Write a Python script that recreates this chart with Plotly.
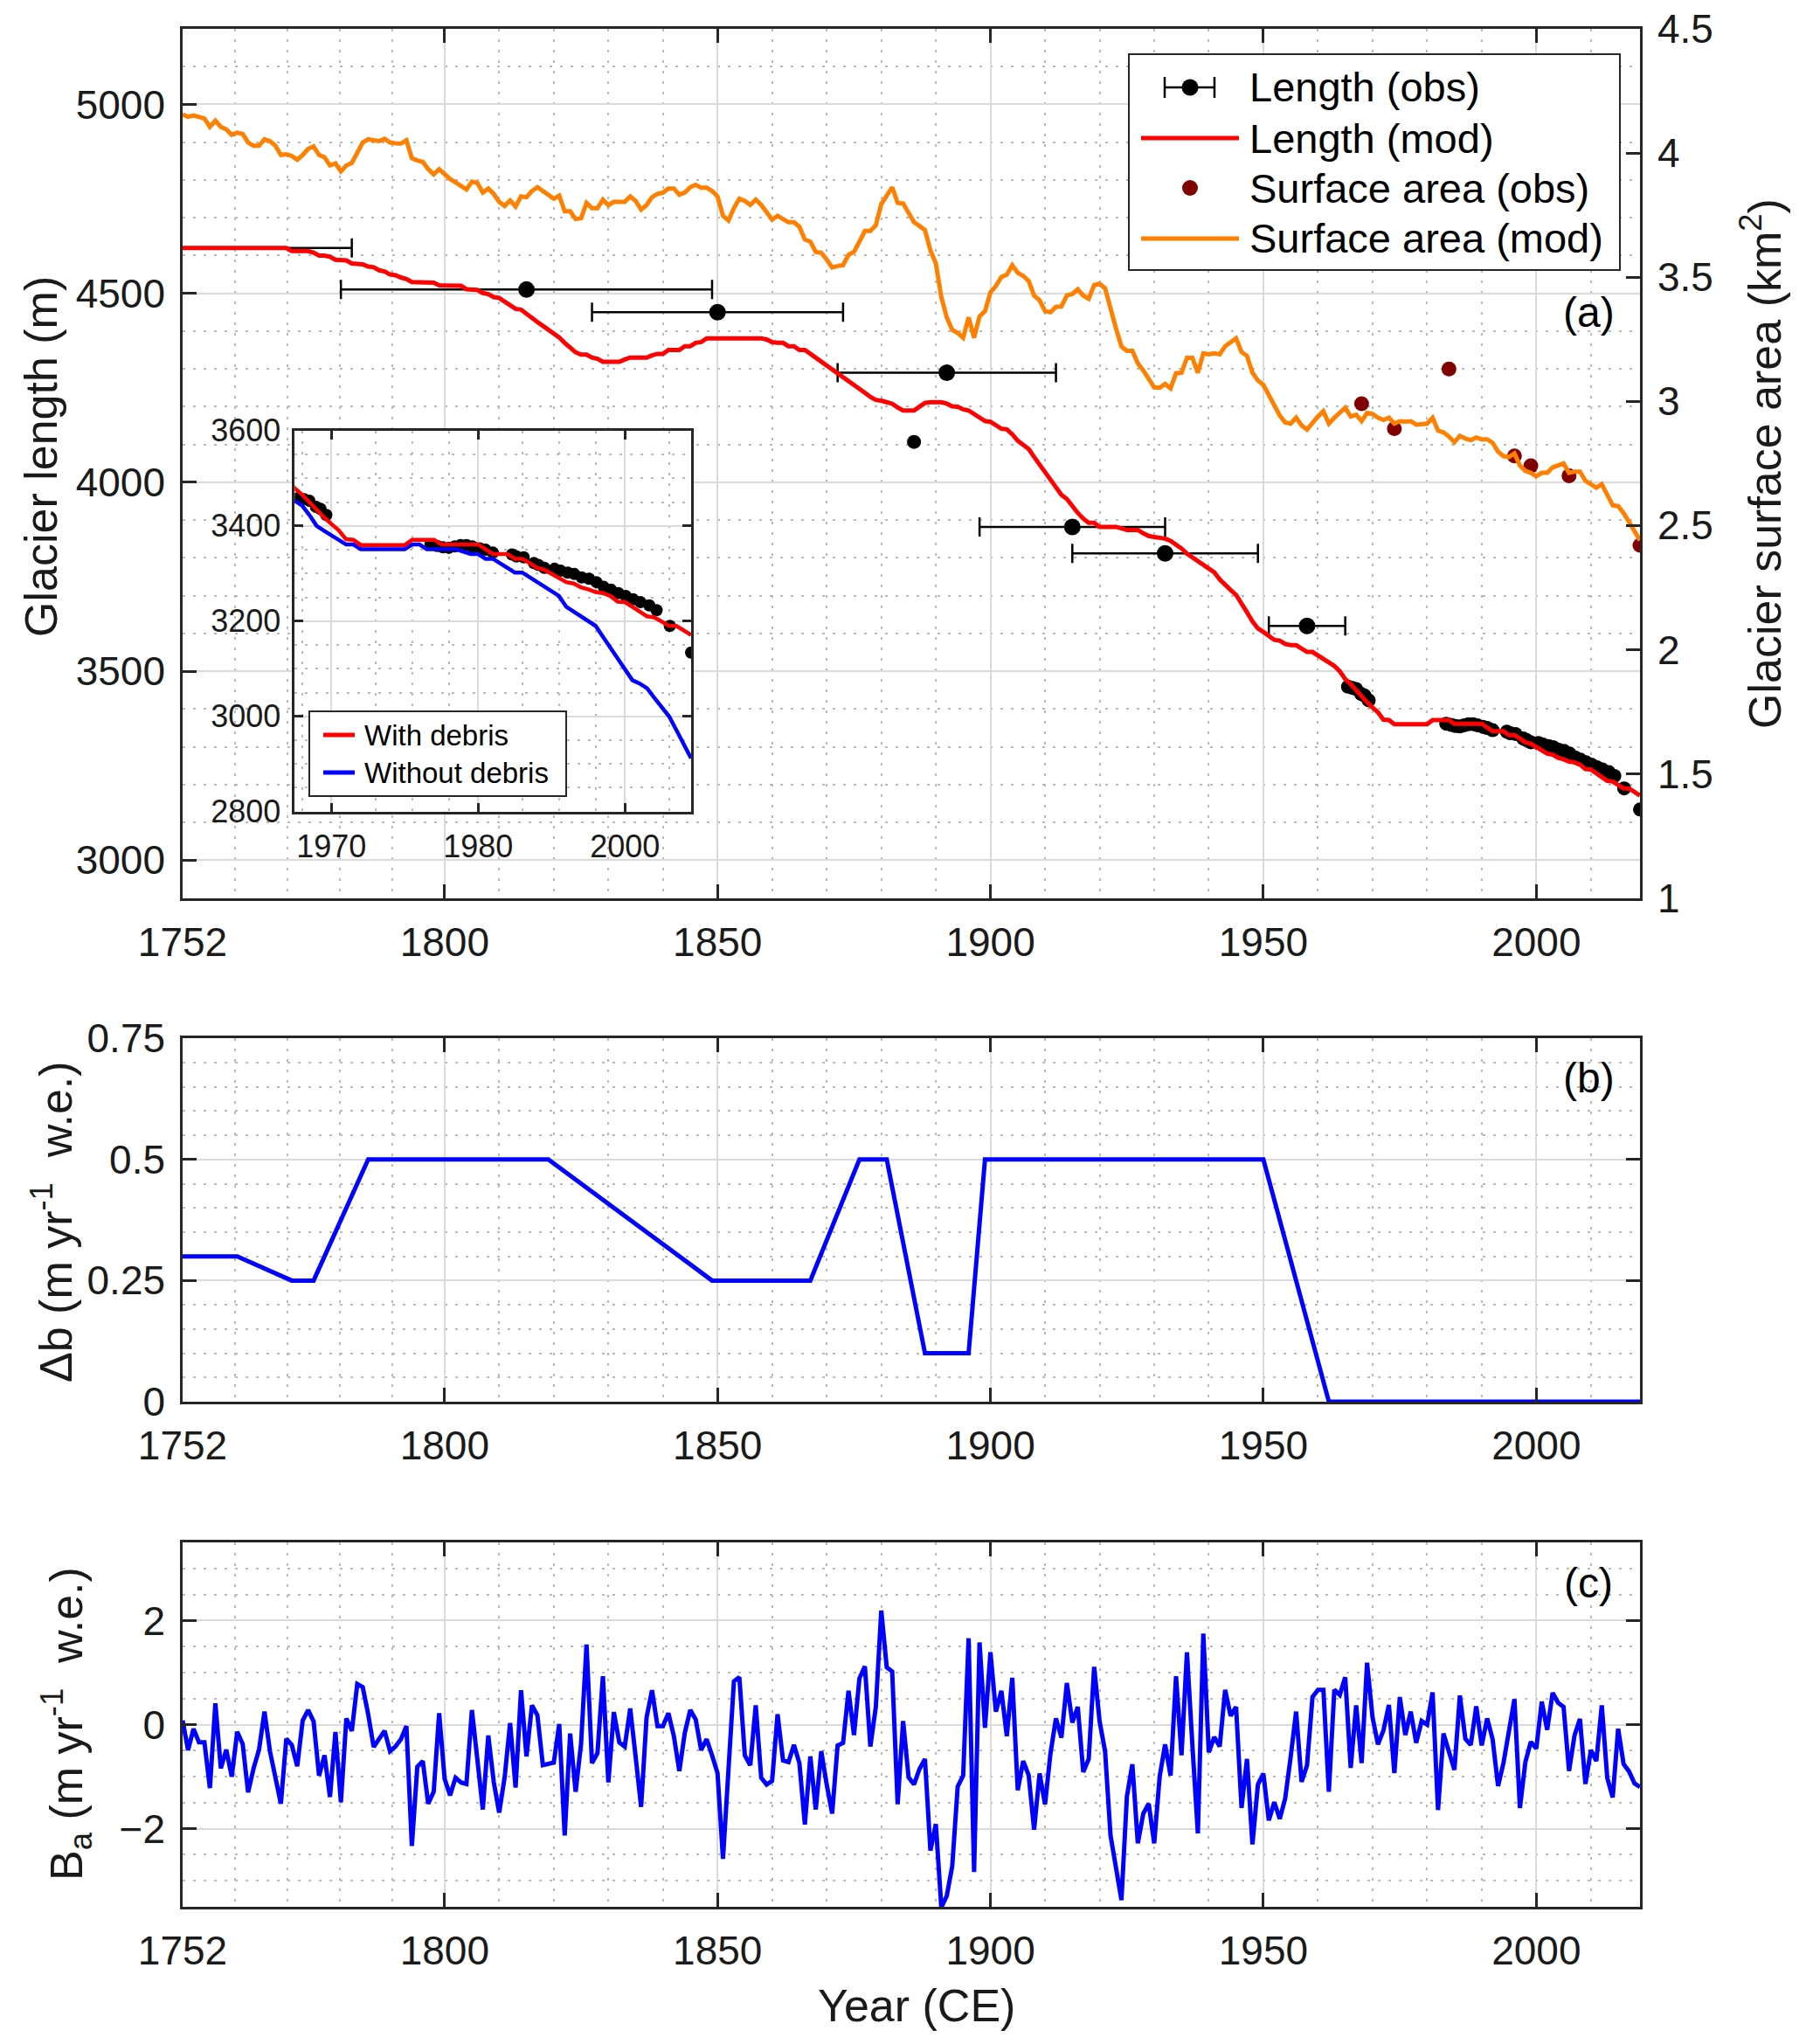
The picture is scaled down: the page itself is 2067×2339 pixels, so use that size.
import plotly.graph_objects as go

# ---- data ----
years = list(range(1752, 2020))

# glacier length, modelled (m), 1752-2019
length_mod = [
    4620, 4620, 4620, 4620, 4620, 4620, 4620, 4620, 4620, 4620,  # 1752
    4620, 4620, 4620, 4620, 4620, 4620, 4620, 4620, 4620, 4620,  # 1762
    4612, 4612, 4612, 4612, 4608, 4600, 4600, 4597, 4589, 4589,  # 1772
    4587, 4579, 4579, 4577, 4571, 4569, 4561, 4558, 4550, 4548,  # 1782
    4542, 4538, 4530, 4530, 4530, 4530, 4528, 4521, 4521, 4521,  # 1792
    4521, 4520, 4511, 4511, 4509, 4501, 4498, 4490, 4488, 4478,  # 1802
    4468, 4459, 4457, 4445, 4435, 4424, 4414, 4404, 4393, 4383,  # 1812
    4369, 4355, 4344, 4338, 4338, 4330, 4327, 4319, 4319, 4319,  # 1822
    4319, 4325, 4330, 4330, 4330, 4330, 4336, 4340, 4340, 4350,  # 1832
    4350, 4350, 4360, 4360, 4369, 4371, 4381, 4381, 4381, 4381,  # 1842
    4381, 4381, 4381, 4381, 4381, 4381, 4381, 4378, 4371, 4369,  # 1852
    4369, 4360, 4360, 4350, 4350, 4340, 4330, 4319, 4308, 4299,  # 1862
    4289, 4278, 4267, 4257, 4247, 4237, 4226, 4218, 4216, 4212,  # 1872
    4208, 4198, 4190, 4190, 4190, 4200, 4210, 4212, 4212, 4212,  # 1882
    4208, 4201, 4200, 4193, 4190, 4181, 4171, 4162, 4160, 4152,  # 1892
    4142, 4140, 4127, 4110, 4099, 4088, 4067, 4047, 4026, 4006,  # 1902
    3985, 3967, 3956, 3937, 3919, 3904, 3893, 3893, 3882, 3882,  # 1912
    3882, 3882, 3878, 3874, 3874, 3874, 3865, 3858, 3855, 3854,  # 1922
    3851, 3845, 3836, 3825, 3811, 3801, 3792, 3783, 3774, 3762,  # 1932
    3743, 3727, 3715, 3702, 3681, 3656, 3632, 3613, 3604, 3594,  # 1942
    3583, 3581, 3572, 3569, 3569, 3560, 3551, 3551, 3542, 3532,  # 1952
    3523, 3514, 3500, 3479, 3466, 3449, 3433, 3418, 3404, 3391,  # 1962
    3372, 3371, 3360, 3360, 3360, 3360, 3360, 3360, 3360, 3371,  # 1972
    3371, 3371, 3371, 3361, 3361, 3361, 3361, 3361, 3361, 3351,  # 1982
    3341, 3341, 3341, 3331, 3331, 3322, 3312, 3308, 3299, 3292,  # 1992
    3282, 3279, 3271, 3267, 3261, 3259, 3253, 3241, 3240, 3230,  # 2002
    3220, 3210, 3208, 3200, 3190, 3190, 3180, 3171,              # 2012
]

# glacier surface area, modelled (km2), 1752-2019
area_mod = [
    4.155, 4.146, 4.151, 4.143, 4.139, 4.105, 4.130, 4.105, 4.095, 4.073,  # 1752
    4.082, 4.077, 4.042, 4.029, 4.029, 4.055, 4.048, 4.029, 3.992, 3.995,  # 1762
    3.988, 3.973, 3.992, 4.017, 4.026, 3.992, 3.983, 3.950, 3.958, 3.926,  # 1772
    3.950, 3.960, 4.004, 4.042, 4.055, 4.051, 4.048, 4.057, 4.042, 4.039,  # 1782
    4.038, 4.051, 3.979, 3.970, 3.964, 3.935, 3.914, 3.935, 3.916, 3.895,  # 1792
    3.882, 3.866, 3.853, 3.885, 3.879, 3.841, 3.857, 3.835, 3.803, 3.787,  # 1802
    3.809, 3.784, 3.825, 3.822, 3.847, 3.862, 3.845, 3.828, 3.816, 3.828,  # 1812
    3.765, 3.765, 3.734, 3.737, 3.799, 3.778, 3.778, 3.812, 3.790, 3.803,  # 1822
    3.803, 3.803, 3.825, 3.807, 3.772, 3.790, 3.822, 3.835, 3.840, 3.857,  # 1832
    3.857, 3.832, 3.841, 3.862, 3.872, 3.860, 3.860, 3.847, 3.825, 3.747,  # 1842
    3.728, 3.778, 3.816, 3.807, 3.791, 3.812, 3.791, 3.762, 3.732, 3.747,  # 1852
    3.734, 3.721, 3.721, 3.703, 3.652, 3.643, 3.602, 3.598, 3.571, 3.539,  # 1862
    3.545, 3.548, 3.590, 3.602, 3.643, 3.686, 3.686, 3.709, 3.794, 3.828,  # 1872
    3.862, 3.799, 3.797, 3.759, 3.721, 3.706, 3.690, 3.608, 3.555, 3.420,  # 1882
    3.338, 3.288, 3.275, 3.256, 3.338, 3.256, 3.342, 3.363, 3.439, 3.464,  # 1892
    3.501, 3.510, 3.548, 3.518, 3.505, 3.485, 3.426, 3.407, 3.363, 3.359,  # 1902
    3.380, 3.382, 3.426, 3.432, 3.451, 3.426, 3.413, 3.468, 3.473, 3.455,  # 1912
    3.370, 3.294, 3.221, 3.203, 3.203, 3.153, 3.124, 3.093, 3.056, 3.055,  # 1922
    3.070, 3.052, 3.113, 3.115, 3.175, 3.175, 3.115, 3.193, 3.189, 3.193,  # 1932
    3.189, 3.222, 3.236, 3.254, 3.198, 3.183, 3.115, 3.084, 3.066, 3.023,  # 1942
    2.981, 2.943, 2.915, 2.910, 2.934, 2.903, 2.886, 2.915, 2.939, 2.960,  # 1952
    2.910, 2.934, 2.953, 2.974, 2.939, 2.946, 2.920, 2.953, 2.949, 2.934,  # 1962
    2.925, 2.934, 2.910, 2.920, 2.918, 2.920, 2.906, 2.910, 2.910, 2.934,  # 1972
    2.882, 2.875, 2.858, 2.835, 2.861, 2.850, 2.844, 2.854, 2.847, 2.847,  # 1982
    2.833, 2.797, 2.779, 2.776, 2.790, 2.741, 2.720, 2.712, 2.698, 2.712,  # 1992
    2.712, 2.734, 2.741, 2.750, 2.712, 2.717, 2.717, 2.680, 2.666, 2.652,  # 2002
    2.666, 2.623, 2.581, 2.578, 2.550, 2.514, 2.476, 2.440,                # 2012
]

# length observations with dating uncertainty (+/- years)
obs_err_year = [1750, 1815, 1850, 1892, 1915, 1932, 1958]
obs_err_len = [4620, 4510, 4450, 4290, 3882, 3812, 3620]
obs_err_dx = [33, 34, 23, 20, 17, 17, 7]

# length observations without error bar
obs_year = [1886, 1965.5, 1966.3, 1967, 1967.9, 1968.5, 1969.3,
            1983.5, 1984.4, 1985.2, 1986, 1986.8, 1987.6, 1988.4, 1989.2,
            1990.2, 1991, 1992, 1994.6, 1995.2, 1996.2, 1997.6, 1998.2,
            1999, 2000.4, 2001.2, 2002.2, 2003.1, 2004.1, 2005.1, 2006.1,
            2007.1, 2008.1, 2009.1, 2010.1, 2011.1, 2012.1, 2013.3, 2014.3,
            2016.1, 2019]
obs_len = [4107, 3459, 3456, 3453, 3440, 3436, 3423,
           3361, 3358, 3355, 3354, 3357, 3360, 3360, 3357,
           3353, 3350, 3344, 3340, 3336, 3334, 3322, 3318,
           3312, 3310, 3306, 3302, 3299, 3292, 3289, 3282,
           3272, 3266, 3259, 3253, 3246, 3240, 3233, 3223,
           3190, 3134]

# surface area observations (km2)
area_obs_year = [1968, 1974, 1984, 1996, 1999, 2006, 2019]
area_obs = [2.99, 2.89, 3.13, 2.78, 2.74, 2.70, 2.42]

# inset: modelled length without debris, 1965-2019
nodebris_year = list(range(1965, 2020))
length_nodebris = [
    3453, 3443, 3423, 3400, 3390, 3381, 3371, 3361, 3361, 3351,  # 1965
    3351, 3351, 3351, 3351, 3351, 3351, 3361, 3361, 3351, 3351,  # 1975
    3351, 3351, 3351, 3346, 3341, 3341, 3331, 3331, 3322, 3312,  # 1985
    3302, 3302, 3292, 3282, 3272, 3262, 3253, 3230, 3220, 3210,  # 1995
    3202, 3190, 3167, 3144, 3121, 3099, 3076, 3069, 3059, 3039,  # 2005
    3020, 3000, 2971, 2941, 2912,                                # 2015
]

# panel (b): mass balance offset, breakpoints
db_year = [1752, 1762, 1772, 1776, 1786, 1819, 1849, 1867, 1876, 1881,
           1888, 1896, 1899, 1950, 1962, 2019]
db_val = [0.3, 0.3, 0.25, 0.25, 0.5, 0.5, 0.25, 0.25, 0.5, 0.5,
          0.1, 0.1, 0.5, 0.5, 0.0, 0.0]

# panel (c): annual mass balance Ba (m w.e.), 1752-2019
ba = [
    0.08, -0.49, -0.08, -0.34, -0.34, -1.22, 0.41, -0.84, -0.48, -1.00,  # 1752
    -0.14, -0.37, -1.30, -0.84, -0.48, 0.25, -0.51, -1.01, -1.52, -0.27,  # 1762
    -0.39, -0.80, 0.08, 0.28, 0.06, -0.98, -0.59, -1.39, -0.14, -1.49,  # 1772
    0.12, -0.12, 0.78, 0.72, 0.20, -0.43, -0.28, -0.12, -0.51, -0.42,  # 1782
    -0.28, -0.03, -2.33, -0.81, -0.70, -1.52, -1.29, 0.22, -1.04, -1.36,  # 1792
    -1.02, -1.11, -1.14, 0.28, -0.67, -1.63, -0.21, -1.10, -1.69, -1.01,  # 1802
    0.03, -1.21, 0.66, -0.61, 0.37, 0.18, -0.78, -0.76, -0.73, 0.01,  # 1812
    -2.13, -0.17, -1.29, -0.37, 1.54, -0.74, -0.55, 0.93, -1.11, 0.24,  # 1822
    -0.34, -0.42, 0.31, -0.62, -1.58, 0.14, 0.66, -0.03, -0.03, 0.22,  # 1832
    -0.22, -0.89, -0.16, 0.28, 0.10, -0.49, -0.28, -0.59, -0.93, -2.58,  # 1842
    -1.01, 0.83, 0.91, -0.59, -0.78, 0.37, -1.02, -1.15, -1.08, 0.20,  # 1852
    -0.69, -0.72, -0.39, -0.74, -1.92, -0.61, -1.63, -0.51, -1.15, -1.71,  # 1862
    -0.40, -0.35, 0.65, -0.20, 0.89, 1.12, -0.42, 0.34, 2.19, 1.10,  # 1872
    1.02, -1.53, 0.07, -1.01, -1.15, -0.85, -0.66, -2.42, -1.91, -3.51,  # 1882
    -3.29, -2.72, -1.19, -0.98, 1.66, -2.83, 1.58, -0.06, 1.39, 0.25,  # 1892
    0.65, -0.22, 0.90, -1.26, -0.70, -0.97, -2.02, -0.94, -1.53, -0.55,  # 1902
    0.12, -0.25, 0.80, 0.04, 0.34, -0.91, -0.66, 1.11, 0.06, -0.51,  # 1912
    -2.13, -2.81, -3.37, -1.38, -0.76, -2.28, -1.71, -1.52, -2.28, -1.00,  # 1922
    -0.38, -0.98, 0.93, -0.59, 1.39, -0.40, -2.09, 1.75, -0.53, -0.24,  # 1932
    -0.42, 0.67, 0.17, 0.34, -1.60, -0.66, -2.30, -1.15, -0.94, -1.84,  # 1942
    -1.49, -1.81, -1.42, -0.62, 0.25, -1.10, -0.78, 0.53, 0.67, 0.67,  # 1952
    -1.29, 0.67, 0.57, 0.91, -0.83, 0.37, -0.74, 1.19, 0.14, -0.38,  # 1962
    -0.11, 0.38, -0.93, 0.53, -0.20, 0.25, -0.35, 0.07, 0.00, 0.62,  # 1972
    -1.64, -0.17, -0.49, -0.87, 0.56, -0.27, -0.39, 0.35, -0.40, 0.12,  # 1982
    -0.28, -1.18, -0.73, -0.08, 0.49, -1.60, -0.72, -0.33, -0.46, 0.44,  # 1992
    -0.10, 0.61, 0.42, 0.34, -0.89, -0.21, 0.11, -1.14, -0.49, -0.70,  # 2002
    0.37, -1.02, -1.40, -0.08, -0.76, -0.90, -1.13, -1.20,  # 2012
]

# tick labels
year_ticks = [1752, 1800, 1850, 1900, 1950, 2000]
year_minor = [1761.6, 1771.2, 1780.8, 1790.4] + [y for y in range(1810, 2020, 10) if y % 50]
area_ticks = [1, 1.5, 2, 2.5, 3, 3.5, 4, 4.5]
area_ticktext = ["1", "1.5", "2", "2.5", "3", "3.5", "4", "4.5"]
inset_ticks = [1970, 1990, 2010]
inset_ticktext = ["1970", "1980", "2000"]
inset_minor = [1966, 1976, 1981, 1986, 1996, 2001, 2006, 2016]

# ---- styling ----
# the page adds an 8px body margin, so the figure is shifted and shrunk by that much
OFF = 8
W, H = 2067 - OFF, 2339 - OFF
ML, MR, MT, MB = 209 - OFF, 190, 33 - OFF, 157
PW, PH = W - ML - MR, H - MT - MB
FONT = "Liberation Sans"
AX = "#262626"
GRID = "#dadada"
MGRID = "#b8b8b8"
RED, ORANGE, BLUE, MAROON = "#ff0000", "#ff8000", "#0000ff", "#800000"


def px(x):
    # page pixel -> paper x
    return (x - OFF - ML) / PW


def py(y):
    # page pixel -> paper y
    return (MT + PH - (y - OFF)) / PH


def axis(size=46, **kw):
    d = dict(showline=True, linecolor=AX, linewidth=2.5, ticks="inside", ticklen=16,
             tickwidth=2.5, tickcolor=AX, tickfont=dict(family=FONT, size=size, color="#1a1a1a"),
             showgrid=True, gridcolor=GRID, gridwidth=2, zeroline=False, automargin=False,
             tickmode="array", ticklabelstandoff=8, ticklabeloverflow="allow")
    d.update(kw)
    return d


def minor(vals):
    return dict(tickmode="array", tickvals=vals, showgrid=True, gridcolor=MGRID,
                griddash="3px,9px", gridwidth=2, ticks="")


fig = go.Figure()

# panel (a)
fig.add_trace(go.Scatter(x=obs_err_year, y=obs_err_len, mode="markers",
                         marker=dict(color="black", size=19),
                         error_x=dict(type="data", array=obs_err_dx, color="black",
                                      thickness=2.5, width=11),
                         xaxis="x", yaxis="y"))
fig.add_trace(go.Scatter(x=obs_year, y=obs_len, mode="markers",
                         marker=dict(color="black", size=16), xaxis="x", yaxis="y"))
fig.add_trace(go.Scatter(x=years, y=length_mod, mode="lines",
                         line=dict(color=RED, width=5), xaxis="x", yaxis="y"))
fig.add_trace(go.Scatter(x=area_obs_year, y=area_obs, mode="markers",
                         marker=dict(color=MAROON, size=17), xaxis="x", yaxis="y2"))
fig.add_trace(go.Scatter(x=years, y=area_mod, mode="lines",
                         line=dict(color=ORANGE, width=5), xaxis="x", yaxis="y2"))

# panel (b)
fig.add_trace(go.Scatter(x=db_year, y=db_val, mode="lines",
                         line=dict(color=BLUE, width=5), xaxis="x2", yaxis="y3"))

# panel (c)
fig.add_trace(go.Scatter(x=years, y=ba, mode="lines",
                         line=dict(color=BLUE, width=5), xaxis="x3", yaxis="y4"))

# inset
fig.add_trace(go.Scatter(x=obs_year, y=obs_len, mode="markers",
                         marker=dict(color="black", size=14), xaxis="x4", yaxis="y5"))
fig.add_trace(go.Scatter(x=nodebris_year, y=length_nodebris, mode="lines",
                         line=dict(color=BLUE, width=4.5), xaxis="x4", yaxis="y5"))
fig.add_trace(go.Scatter(x=years, y=length_mod, mode="lines",
                         line=dict(color=RED, width=4.5), xaxis="x4", yaxis="y5"))

fig.update_layout(
    width=W, height=H, showlegend=False,
    margin=dict(l=ML, r=MR, t=MT, b=MB, pad=0),
    paper_bgcolor="white", plot_bgcolor="white",
    font=dict(family=FONT, color=AX),
    xaxis=axis(domain=[0, 1], anchor="y", range=[1752, 2019], tickvals=year_ticks,
               mirror="ticks", minor=minor(year_minor)),
    yaxis=axis(domain=[0.5372, 1.0], anchor="x", range=[2900, 5200],
               tickvals=[3000, 3500, 4000, 4500, 5000],
               minor=minor([v for v in range(3000, 5200, 100) if v % 500])),
    yaxis2=axis(overlaying="y", side="right", anchor="x", range=[1, 4.5],
                tickvals=area_ticks, ticktext=area_ticktext, showgrid=False),
    xaxis2=axis(domain=[0, 1], anchor="y3", range=[1752, 2019], tickvals=year_ticks,
                mirror="ticks", minor=minor(year_minor)),
    yaxis3=axis(domain=[0.2690, 0.4624], anchor="x2", range=[0, 0.75],
                tickvals=[0, 0.25, 0.5, 0.75], mirror="ticks",
                minor=minor([v / 100 for v in range(5, 75, 5) if v % 25])),
    xaxis3=axis(domain=[0, 1], anchor="y4", range=[1752, 2019], tickvals=year_ticks,
                mirror="ticks", minor=minor(year_minor)),
    yaxis4=axis(domain=[0, 0.1940], anchor="x3", range=[-3.5, 3.5],
                tickvals=[-2, 0, 2], mirror="ticks",
                minor=minor([-3, -2.5, -1.5, -1, -0.5, 0.5, 1, 1.5, 2.5, 3])),
    xaxis4=axis(36, domain=[0.0769, 0.3489], anchor="y5", range=[1965, 2019],
                tickvals=inset_ticks, ticktext=inset_ticktext, mirror="ticks",
                ticklen=10, ticklabelstandoff=6, minor=minor(inset_minor)),
    yaxis5=axis(36, domain=[0.5832, 0.7860], anchor="x4", range=[2800, 3600],
                tickvals=[2800, 3000, 3200, 3400, 3600], mirror="ticks", ticklen=10,
                ticklabelstandoff=6,
                minor=minor([v for v in range(2850, 3600, 50) if v % 200])),
)

# axis titles (page pixel positions)
titles = [
    ("Glacier length (m)", 47, 523, -90),
    ("Glacier surface area (km<sup>2</sup>)", 2016, 530, -90),
    ("\u0394b (m yr<sup>-1</sup>  w.e.)", 60, 1398, -90),
    ("B<sub>a</sub> (m yr<sup>-1</sup>  w.e.)", 76, 1973, -90),
    ("Year (CE)", 1049, 2295, 0),
]
for text, x, y, ang in titles:
    fig.add_annotation(text=text, x=px(x), y=py(y), xref="paper", yref="paper",
                       showarrow=False, textangle=ang, xanchor="center", yanchor="middle",
                       font=dict(family=FONT, size=52, color="#1a1a1a"))

# panel letters
for text, y in [("(a)", 357), ("(b)", 1233), ("(c)", 1811)]:
    fig.add_annotation(text=text, x=px(1818), y=py(y), xref="paper", yref="paper",
                       showarrow=False, xanchor="center", yanchor="middle",
                       font=dict(family=FONT, size=48, color="black"))

# main legend (drawn by hand to keep the errorbar glyph)
shapes = []


def seg(x0, y0, x1, y1, color, width):
    shapes.append(dict(type="line", xref="paper", yref="paper", x0=px(x0), x1=px(x1),
                       y0=py(y0), y1=py(y1), line=dict(color=color, width=width)))


def dot(cx, cy, r, color):
    shapes.append(dict(type="circle", xref="paper", yref="paper", x0=px(cx - r), x1=px(cx + r),
                       y0=py(cy + r), y1=py(cy - r), fillcolor=color, line=dict(width=0)))


shapes.append(dict(type="rect", xref="paper", yref="paper", x0=px(1292), x1=px(1854),
                   y0=py(309), y1=py(62), line=dict(color=AX, width=2), fillcolor="white",
                   layer="above"))
seg(1333, 100, 1390, 100, "black", 2.5)
seg(1333, 88, 1333, 112, "black", 2.5)
seg(1390, 88, 1390, 112, "black", 2.5)
dot(1362, 100, 9.5, "black")
seg(1306, 158, 1418, 158, RED, 5)
dot(1362, 215, 9, MAROON)
seg(1306, 273, 1418, 273, ORANGE, 5)
for text, y in [("Length (obs)", 100), ("Length (mod)", 158),
                ("Surface area (obs)", 215), ("Surface area (mod)", 273)]:
    fig.add_annotation(text=text, x=px(1428), y=py(y), xref="paper", yref="paper",
                       showarrow=False, xanchor="left", yanchor="middle",
                       font=dict(family=FONT, size=47, color="black"))

# inset legend
shapes.append(dict(type="rect", xref="paper", yref="paper", x0=px(354), x1=px(648),
                   y0=py(911), y1=py(814), line=dict(color=AX, width=2), fillcolor="white",
                   layer="above"))
seg(370, 841, 406, 841, RED, 5)
seg(370, 884, 406, 884, BLUE, 5)
for text, y in [("With debris", 841), ("Without debris", 884)]:
    fig.add_annotation(text=text, x=px(415), y=py(y), xref="paper", yref="paper",
                       showarrow=False, xanchor="left", yanchor="middle",
                       font=dict(family=FONT, size=33, color="black"))

fig.update_layout(shapes=shapes)
fig.write_html("out.html")
